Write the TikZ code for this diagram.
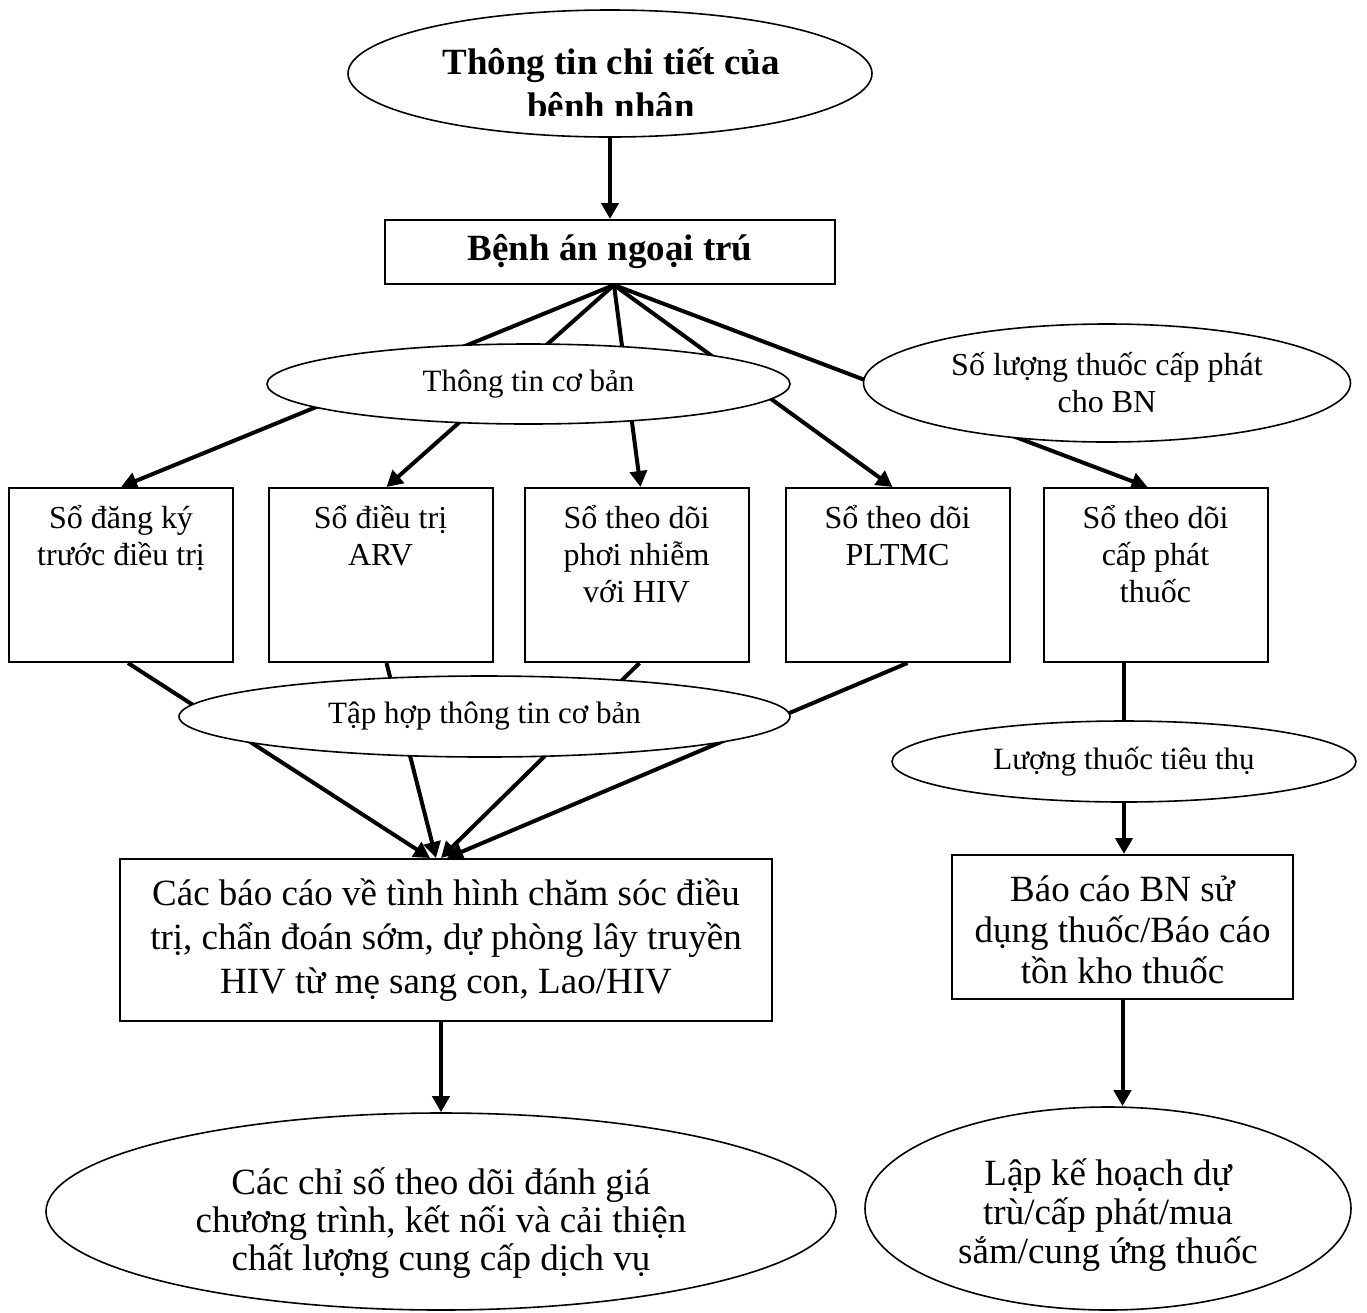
\documentclass[tikz,border=0pt]{standalone}
\usepackage{fontspec}
\setmainfont{Liberation Serif}
\usetikzlibrary{arrows.meta,shapes.geometric,backgrounds,calc}
\newcommand\rowtxt[1]{\parbox[c][87pt][t]{110pt}{\centering\fontsize{16}{18.5}\selectfont\rule{0pt}{20pt}#1}}
\newcommand\toptx[4]{\parbox[c][#1][t]{#2}{\centering\rule{0pt}{#3}#4}}
\tikzset{
  boxnode/.style={draw, line width=1pt, fill=white, inner sep=0pt, align=center},
  ellnode/.style={ellipse, draw, line width=0.8pt, fill=white, inner sep=0pt, align=center},
  conn/.style={line width=2pt, black},
  arr/.style={conn, -{Triangle[length=8pt,width=8.5pt]}},
  smallfont/.style={font=\fontsize{15.5}{18.5}\selectfont},
  midfont/.style={font=\fontsize{16}{18.5}\selectfont},
  bigfont/.style={font=\fontsize{18.5}{22}\selectfont},
  boldfont/.style={font=\fontsize{18.5}{22}\selectfont\bfseries},
}
\begin{document}
\begin{tikzpicture}[x=0.5pt,y=-0.5pt]
\useasboundingbox (0,0) rectangle (1367,1313);

% top ellipse with clipped title
\node[ellnode, minimum width=262pt, minimum height=63.5pt] (top) at (610,73.5) {};
\begin{scope}
\clip (350,12) rectangle (870,115);
\node[boldfont, anchor=base, inner sep=0pt] (title1) at (611,74) {Thông tin chi tiết của};
\node[boldfont, anchor=base, inner sep=0pt] (title2) at (611,118) {bệnh nhân};
\end{scope}

\node[boxnode, boldfont, minimum width=225pt, minimum height=32pt] (ba) at (610,252) {Bệnh án ngoại trú};

\node[ellnode, smallfont, minimum width=261.5pt, minimum height=40pt] (ttcb) at (528.5,384) {Thông tin cơ bản};
\node[ellnode, midfont, minimum width=243.5pt, minimum height=59pt] (slt) at (1107,383) {Số lượng thuốc cấp phát\\cho BN};

\node[boxnode, minimum width=112pt, minimum height=87pt] (b1) at (121,575) {\rowtxt{Sổ đăng ký\\trước điều trị}};
\node[boxnode, minimum width=112pt, minimum height=87pt] (b2) at (380.5,575) {\rowtxt{Sổ điều trị\\ARV}};
\node[boxnode, minimum width=112pt, minimum height=87pt] (b3) at (636.5,575) {\rowtxt{Sổ theo dõi\\phơi nhiễm\\với HIV}};
\node[boxnode, minimum width=112pt, minimum height=87pt] (b4) at (897.5,575) {\rowtxt{Sổ theo dõi\\PLTMC}};
\node[boxnode, minimum width=112pt, minimum height=87pt] (b5) at (1155.5,575) {\rowtxt{Sổ theo dõi\\cấp phát\\thuốc}};

\node[ellnode, smallfont, minimum width=305.5pt, minimum height=40.5pt] (th) at (484.5,716.5) {Tập hợp thông tin cơ bản};
\node[ellnode, smallfont, minimum width=232pt, minimum height=40.5pt] (lt) at (1124,761.5) {Lượng thuốc tiêu thụ};

\node[boxnode, bigfont, minimum width=326pt, minimum height=81pt] (cb) at (446,940) {Các báo cáo về tình hình chăm sóc điều\\trị, chẩn đoán sớm, dự phòng lây truyền\\HIV từ mẹ sang con, Lao/HIV};
\node[boxnode, font=\fontsize{18.5}{20.5}\selectfont, minimum width=170.5pt, minimum height=72pt] (bc) at (1122.5,927) {\toptx{72pt}{165pt}{23pt}{Báo cáo BN sử\\dụng thuốc/Báo cáo\\tồn kho thuốc}};

\node[ellnode, font=\fontsize{18.5}{19}\selectfont, minimum width=395pt, minimum height=98.5pt] (cs) at (441,1211.5) {\toptx{64pt}{260pt}{23.5pt}{Các chỉ số theo dõi đánh giá\\chương trình, kết nối và cải thiện\\chất lượng cung cấp dịch vụ}};
\node[ellnode, font=\fontsize{18.5}{19.5}\selectfont, minimum width=243pt, minimum height=101.5pt] (lk) at (1108,1208.5) {\toptx{64pt}{160pt}{20.5pt}{Lập kế hoạch dự\\trù/cấp phát/mua\\sắm/cung ứng thuốc}};

% connectors
\coordinate (apex) at ($(ba.south)+(4,0)$);
\coordinate (cbout) at ($(cb.south)+(-5,0)$);
\coordinate (b5out) at ($(b5.south)+(-31.5,0)$);
\coordinate (cbin1) at ($(cb.north)+(-16,0)$);
\coordinate (cbin2) at ($(cb.north)+(-10,0)$);
\coordinate (cbin3) at ($(cb.north)+(-5,0)$);
\coordinate (cbin4) at ($(cb.north)+(1,0)$);
\begin{scope}[on background layer]
\draw[arr] (apex) -- (b1.north);
\draw[arr] (apex) -- ($(b2.north)+(6,0)$);
\draw[arr] (apex) -- ($(b3.north)+(4,0)$);
\draw[arr] (apex) -- ($(b4.north)+(-5,0)$);
\draw[arr] (apex) -- ($(b5.north)+(-8,0)$);
\draw[arr] ($(b1.south)+(7,0)$) -- (cbin1);
\draw[arr] ($(b2.south)+(6,0)$) -- (cbin2);
\draw[arr] ($(b3.south)+(3,0)$) -- (cbin3);
\draw[arr] ($(b4.south)+(10,0)$) -- (cbin4);
\draw[conn] (b5out) -- (b5out |- lt.north);
\end{scope}
\draw[arr] (top.south) -- (ba.north);
\draw[arr] (lt.south) -- (lt.south |- bc.north);
\draw[arr] (cbout) -- (cbout |- cs.north);
\draw[arr] (bc.south) -- (bc.south |- lk.north);
\end{tikzpicture}
\end{document}
